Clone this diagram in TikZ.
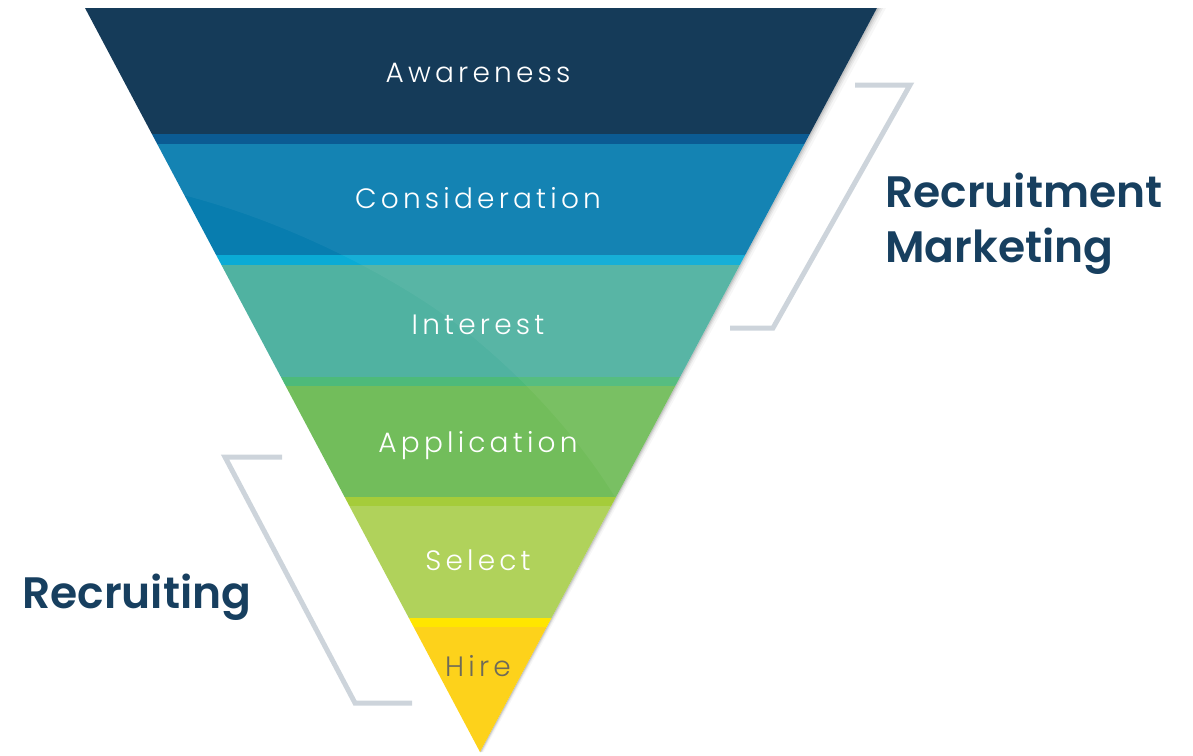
\documentclass[tikz,border=0pt]{standalone}
\usepackage{fontspec}
\IfFontExistsTF{Poppins Light}
  {\newfontfamily\stagefont[LetterSpace=15]{Poppins Light}}
  {\newfontfamily\stagefont[LetterSpace=15]{Poppins}}
\IfFontExistsTF{Poppins SemiBold}
  {\newfontfamily\headfont{Poppins SemiBold}}
  {\newfontfamily\headfont{Poppins}[UprightFont=*-Bold]}

\definecolor{cAware}{HTML}{153B59}
\definecolor{cAwareEdge}{HTML}{0B5B93}
\definecolor{cConsid}{HTML}{087DAF}
\definecolor{cConsidEdge}{HTML}{0AABD5}
\definecolor{cInter}{HTML}{50B2A1}
\definecolor{cInterEdge}{HTML}{4DBA7A}
\definecolor{cAppl}{HTML}{72BD5B}
\definecolor{cApplEdge}{HTML}{A5CC3A}
\definecolor{cSelect}{HTML}{B0D25B}
\definecolor{cSelectEdge}{HTML}{FFE600}
\definecolor{cHire}{HTML}{FDD21B}
\definecolor{cHireText}{HTML}{6E6A58}
\definecolor{cBracket}{HTML}{CDD4DB}
\definecolor{cHead}{HTML}{173F5F}

\tikzset{
  stage/.style={anchor=base, text=white, inner sep=0pt,
    font=\stagefont\fontsize{28}{32}\selectfont},
  head/.style={anchor=base west, text=cHead, inner sep=0pt,
    font=\headfont\fontsize{44}{50}\selectfont},
  bracket/.style={draw=cBracket, line width=5pt, line join=miter, line cap=butt},
}

\begin{document}
\begin{tikzpicture}[x=1pt,y=-1pt]
\useasboundingbox (0,0) rectangle (1193,755);

% soft shadow on the right flank of the funnel
\foreach \d/\o in {2/0.10,4/0.07,6/0.05,9/0.03}{
  \fill[black, opacity=\o] (877+\d,8) -- (480+\d*0.4,752) -- (480,752) -- (877,8) -- cycle;
}

% funnel bands
\begin{scope}
  \clip (85,8) -- (877,8) -- (480,752) -- cycle;
  \fill[cAware]       (0,0)   rectangle (1193,134);
  \fill[cAwareEdge]   (0,134) rectangle (1193,144);
  \fill[cConsid]      (0,144) rectangle (1193,255);
  \fill[cConsidEdge]  (0,255) rectangle (1193,265);
  \fill[cInter]       (0,265) rectangle (1193,377);
  \fill[cInterEdge]   (0,377) rectangle (1193,386);
  \fill[cAppl]        (0,386) rectangle (1193,497);
  \fill[cApplEdge]    (0,497) rectangle (1193,506);
  \fill[cSelect]      (0,506) rectangle (1193,618);
  \fill[cSelectEdge]  (0,618) rectangle (1193,627);
  \fill[cHire]        (0,627) rectangle (1193,760);
  % light sheen over the upper right of the middle bands
  \fill[white, opacity=0.05]
    (0,144) -- (0,190) -- (183,195)
    .. controls (300,225) and (420,290) .. (480,343)
    .. controls (530,385) and (580,440) .. (615,497)
    -- (1193,497) -- (1193,144) -- cycle;
\end{scope}

% stage labels (shifted left a little for the trailing letter space)
\node[stage] (aware)  at (478,82)  {Awareness};
\node[stage] (consid) at (478,208) {Consideration};
\node[stage] (inter)  at (478,334) {Interest};
\node[stage] (appl)   at (478,452) {Application};
\node[stage] (select) at (478,570) {Select};
\node[stage, text=cHireText] (hire) at (478,676) {Hire};

% brackets
\draw[bracket] (855,85) -- (910,85) -- (773,328) -- (730,328);
\draw[bracket] (282,457) -- (225,457) -- (355,703) -- (412,703);

% group headings
\node[head] (mkt1) at (885,207) {Recruitment};
\node[head] (mkt2) at (885,262) {Marketing};
\node[head] (rec)  at (22,608)  {Recruiting};
\end{tikzpicture}
\end{document}
